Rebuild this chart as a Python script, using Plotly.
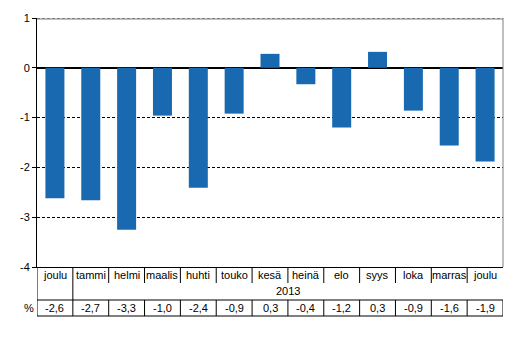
import plotly.graph_objects as go

months = ["joulu", "tammi", "helmi", "maalis", "huhti", "touko", "kesä",
          "heinä", "elo", "syys", "loka", "marras", "joulu"]
values = [-2.62, -2.66, -3.25, -0.96, -2.41, -0.92, 0.28, -0.33, -1.2, 0.32,
          -0.86, -1.56, -1.88]
value_labels = ["-2,6", "-2,7", "-3,3", "-1,0", "-2,4", "-0,9", "0,3", "-0,4",
                "-1,2", "0,3", "-0,9", "-1,6", "-1,9"]
year_label = "2013"
unit_label = "%"
tick_vals = [-4, -3, -2, -1, 0, 1]
tick_text = ["-4", "-3", "-2", "-1", "0", "1"]

BAR = "#1869B0"
FONT = dict(family="Liberation Sans, Arial, sans-serif", size=11, color="black")
DASH = "3px,2px"
n = len(months)
xs = list(range(n))

fig = go.Figure(go.Bar(x=xs, y=values, width=0.53, marker_color=BAR,
                       marker_line_width=0, hoverinfo="skip"))

shapes = []
def vline(x, y0, y1, color="black"):
    shapes.append(dict(type="line", xref="x", yref="paper", ysizemode="pixel",
                       yanchor=0, x0=x, x1=x, y0=y0, y1=y1,
                       line=dict(color=color, width=1)))

# month row separators
for k in range(n - 1):
    b = k + 0.5
    vline(b, 0, -33 if k == 0 else -16)
    vline(b, -33, -49)
# left axis extension and right side of value row
vline(-0.5, 0, -49)
vline(n - 0.5, -33, -49)
# left edge of value row (unit cell)
shapes.append(dict(type="line", xref="x", yref="paper", xsizemode="pixel",
                   ysizemode="pixel", xanchor=-0.5, yanchor=0,
                   x0=-16, x1=-16, y0=-33, y1=-49,
                   line=dict(color="black", width=1)))
# horizontal lines of value row
for yy in (-33, -49):
    shapes.append(dict(type="line", xref="x", yref="paper", xsizemode="pixel",
                       ysizemode="pixel", xanchor=-0.5, yanchor=0,
                       x0=-16, x1=466, y0=yy, y1=yy,
                       line=dict(color="black", width=1)))
# dashed gridline at top value, gray top and right border of plot
shapes.append(dict(type="line", xref="paper", yref="y", x0=0, x1=1,
                   y0=tick_vals[-1], y1=tick_vals[-1],
                   line=dict(color="black", width=1, dash=DASH)))
shapes.append(dict(type="line", xref="paper", yref="paper", x0=0, x1=1,
                   ysizemode="pixel", yanchor=1, y0=-1, y1=-1,
                   line=dict(color="#808080", width=1)))
shapes.append(dict(type="line", xref="paper", yref="paper", x0=1, x1=1,
                   y0=0, y1=1, line=dict(color="#808080", width=1)))

annotations = []
for i, m in enumerate(months):
    annotations.append(dict(x=i, y=0, xref="x", yref="paper", text=m,
                            showarrow=False, yanchor="middle", yshift=-8,
                            font=FONT))
    annotations.append(dict(x=i, y=0, xref="x", yref="paper",
                            text=value_labels[i], showarrow=False,
                            yanchor="middle", yshift=-41, font=FONT))
annotations.append(dict(x=(1 + n - 1) / 2, y=0, xref="x", yref="paper",
                        text=year_label, showarrow=False, yanchor="middle",
                        yshift=-24, font=FONT))
annotations.append(dict(x=-0.5, y=0, xref="x", yref="paper", text=unit_label,
                        showarrow=False, yanchor="middle", xanchor="center",
                        xshift=-8, yshift=-41, font=FONT))

# page body has an 8px default margin, so the figure is sized to fit
fig.update_layout(
    width=518, height=354,
    margin=dict(l=29, r=23, t=10, b=95, pad=0, autoexpand=False),
    paper_bgcolor="white", plot_bgcolor="white",
    showlegend=False, font=FONT,
    shapes=shapes, annotations=annotations,
    xaxis=dict(range=[-0.5, n - 0.5], showticklabels=False, showgrid=False,
               zeroline=False, showline=True, linecolor="black", linewidth=1,
               ticks="", fixedrange=True, automargin=False),
    yaxis=dict(range=[-4, 1], tickvals=tick_vals, ticktext=tick_text,
               showgrid=True, gridcolor="black", griddash=DASH, gridwidth=1,
               zeroline=True, zerolinecolor="black", zerolinewidth=1.5,
               showline=True, linecolor="black", linewidth=1,
               ticks="outside", ticklen=4, tickcolor="black",
               tickfont=FONT, fixedrange=True, automargin=False),
    bargap=0.47,
)

fig.write_html("out.html")
